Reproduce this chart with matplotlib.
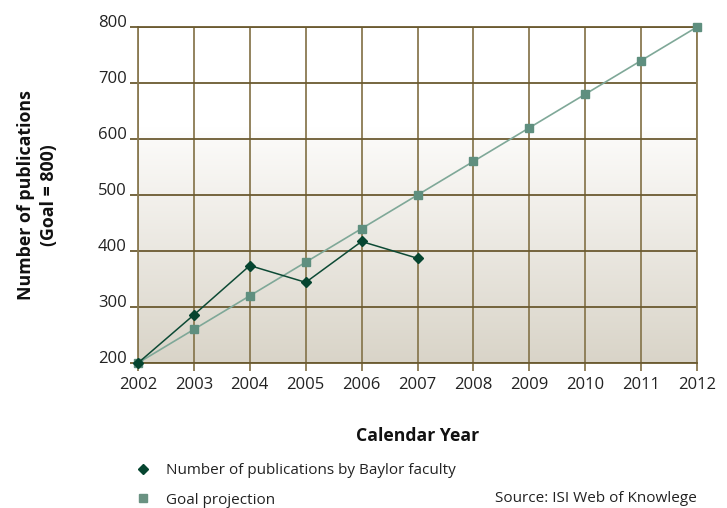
import numpy as np
import matplotlib
matplotlib.use("Agg")
import matplotlib.pyplot as plt
import matplotlib.transforms as mtransforms
from matplotlib.lines import Line2D
from matplotlib.colors import LinearSegmentedColormap

years = [2002, 2003, 2004, 2005, 2006, 2007, 2008, 2009, 2010, 2011, 2012]
actual_years = [2002, 2003, 2004, 2005, 2006, 2007]
actual_pubs = [200, 286, 374, 344, 417, 387]
goal_pubs = [200, 260, 320, 380, 440, 500, 560, 620, 680, 740, 800]
yticks = [200, 300, 400, 500, 600, 700, 800]

plt.rcParams['font.family'] = ['Open Sans', 'DejaVu Sans']

fig = plt.figure(figsize=(7.27, 5.08), dpi=100)
ax = fig.add_axes([138/727, 1-363/508, (697-138)/727, (363-27)/508])

# background gradient: white at top down to ~600, then fades to tan
grad = np.linspace(0, 1, 256).reshape(-1, 1)
cmap = LinearSegmentedColormap.from_list('bg', [(0, '#d9d4c8'), (0.66, '#fbfaf8'), (0.7, '#ffffff'), (1, '#ffffff')])
ax.imshow(grad, extent=[2002, 2012, 200, 800], origin='lower', aspect='auto', cmap=cmap, zorder=0)

ax.set_xlim(2002, 2012)
ax.set_ylim(200, 800)
ax.set_xticks(years)
ax.set_yticks(yticks)

hcol = '#6b5a30'
vcol = '#8a7a52'
ax.grid(axis='y', color=hcol, lw=1.3, zorder=1)
ax.grid(axis='x', color=vcol, lw=1.3, zorder=1)
for s in ['left', 'right']:
    ax.spines[s].set_color(vcol)
    ax.spines[s].set_linewidth(1.3)
for s in ['top', 'bottom']:
    ax.spines[s].set_color(hcol)
    ax.spines[s].set_linewidth(1.3)
ax.tick_params(axis='x', length=6, width=1.3, color=vcol, labelsize=12, labelcolor='#222222', pad=4)
ax.tick_params(axis='y', length=6, width=1.3, color=hcol, labelsize=12, labelcolor='#222222', pad=2)

shift = mtransforms.ScaledTranslation(0, 6/100, fig.dpi_scale_trans)
for lab in ax.get_yticklabels():
    lab.set_transform(lab.get_transform() + shift)

ax.plot(years, goal_pubs, color='#7fa898', lw=1.2, marker='s', ms=6, mfc='#5f8f7f', mec='#5f8f7f',
        zorder=3, clip_on=False)
ax.plot(actual_years, actual_pubs, color='#0d4a35', lw=1.1, marker='D', ms=5.2, mfc='#064530', mec='#064530',
        zorder=4, clip_on=False)

ax.set_ylabel('Number of publications\n(Goal = 800)', fontsize=12.8, fontweight='bold', color='#111111',
              linespacing=1.35)
ax.yaxis.set_label_coords(-0.143, 0.5)
ax.set_xlabel('Calendar Year', fontsize=12.7, fontweight='bold', color='#111111')
ax.xaxis.set_label_coords(0.5, -0.19)

handles = [Line2D([], [], linestyle='None', marker='D', ms=5, color='#064530'),
           Line2D([], [], linestyle='None', marker='s', ms=6, color='#6a9282')]
labels = ['Number of publications by Baylor faculty', 'Goal projection']
fig.legend(handles, labels, loc='upper left', bbox_to_anchor=(128/727, 1-457/508), frameon=False,
           fontsize=11, labelcolor='#222222', handlelength=1.2, handletextpad=0.9, labelspacing=0.95,
           borderaxespad=0)

fig.text(697/727, 1-498/508, 'Source: ISI Web of Knowlege', ha='right', va='center', fontsize=11, color='#222222')

fig.savefig('out.png', dpi=100)
